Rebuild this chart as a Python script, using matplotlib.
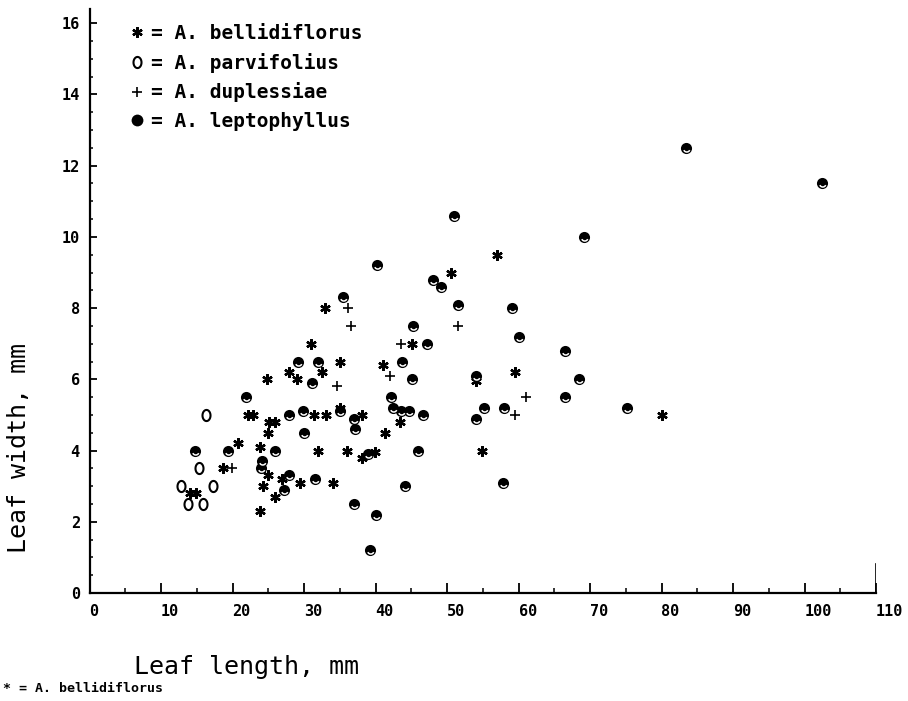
import numpy as np
import matplotlib
matplotlib.use("Agg")
import matplotlib.pyplot as plt
from matplotlib.path import Path
from matplotlib.lines import Line2D

# ---- data (leaf length mm, leaf width mm) ----
lepto_len = [83.4, 102.4, 51.0, 69.2, 40.2, 48.0, 49.2, 35.5, 51.5, 59.1, 45.2, 60.1, 47.2,
             66.5, 43.7, 29.2, 32.0, 31.1, 21.9, 45.1, 54.1, 68.5, 42.2, 66.5, 42.5, 43.6,
             44.7, 46.6, 54.1, 55.2, 58.0, 75.2, 27.9, 29.9, 35.0, 37.0, 37.1, 30.0, 14.8,
             19.4, 25.9, 45.9, 39.0, 24.1, 24.0, 27.9, 31.5, 27.2, 44.1, 57.8, 37.0, 40.1, 39.2]
lepto_wid = [12.5, 11.5, 10.6, 10.0, 9.2, 8.8, 8.6, 8.3, 8.1, 8.0, 7.5, 7.2, 7.0,
             6.8, 6.5, 6.5, 6.5, 5.9, 5.5, 6.0, 6.1, 6.0, 5.5, 5.5, 5.2, 5.1,
             5.1, 5.0, 4.9, 5.2, 5.2, 5.2, 5.0, 5.1, 5.1, 4.9, 4.6, 4.5, 4.0,
             4.0, 4.0, 4.0, 3.9, 3.7, 3.5, 3.3, 3.2, 2.9, 3.0, 3.1, 2.5, 2.2, 1.2]

belli_len = [57.0, 50.6, 32.9, 31.0, 45.1, 35.0, 41.0, 27.9, 32.5, 24.8, 29.0, 54.1, 59.5,
             22.2, 22.9, 31.4, 33.1, 35.0, 38.1, 25.1, 25.9, 43.4, 25.0, 41.3, 20.8, 23.8,
             32.0, 36.0, 38.1, 39.9, 54.9, 80.1, 18.7, 25.0, 26.9, 29.4, 34.1, 24.3, 25.9,
             23.8, 14.1, 14.9]
belli_wid = [9.5, 9.0, 8.0, 7.0, 7.0, 6.5, 6.4, 6.2, 6.2, 6.0, 6.0, 5.95, 6.2,
             5.0, 5.0, 5.0, 5.0, 5.2, 5.0, 4.8, 4.8, 4.8, 4.5, 4.5, 4.2, 4.1,
             4.0, 4.0, 3.8, 3.95, 4.0, 5.0, 3.5, 3.3, 3.2, 3.1, 3.1, 3.0, 2.7,
             2.3, 2.8, 2.8]

dupl_len = [36.1, 36.6, 51.5, 43.6, 42.0, 34.6, 61.0, 59.5, 19.9]
dupl_wid = [8.0, 7.5, 7.5, 7.0, 6.1, 5.8, 5.5, 5.0, 3.5]

parv_len = [16.3, 15.3, 12.8, 17.3, 13.8, 15.9]
parv_wid = [5.0, 3.5, 3.0, 3.0, 2.5, 2.5]

species = ["A. bellidiflorus", "A. parvifolius", "A. duplessiae", "A. leptophyllus"]
x_ticks = [0, 10, 20, 30, 40, 50, 60, 70, 80, 90, 100, 110]
y_ticks = [0, 2, 4, 6, 8, 10, 12, 14, 16]

# ---- marker shapes ----
t = np.linspace(0, 2 * np.pi, 60)
ellipse = Path(np.column_stack([0.72 * np.cos(t), np.sin(t)]), closed=True)

a = np.linspace(np.deg2rad(205), np.deg2rad(335), 24)
arc = np.column_stack([0.05 + 0.58 * np.cos(a), -0.05 + 0.58 * np.sin(a)])
crescent = Path(np.vstack([[[1, 1]], [[-1, -1]], arc]),
                [Path.MOVETO, Path.MOVETO, Path.MOVETO] + [Path.LINETO] * (len(arc) - 1))

star = (6, 2, 0)

mono = "DejaVu Sans Mono"

fig = plt.figure(figsize=(9.08, 7.01), dpi=100)
ax = fig.add_axes([89.5 / 908, 108 / 701, 786.5 / 908, 584 / 701])
ax.set_xlim(0, 110)
ax.set_ylim(0, 16.4)

ax.plot(belli_len, belli_wid, linestyle="none", marker=star, ms=7.5, mew=1.7,
        color="black", mec="black")
ax.plot(parv_len, parv_wid, linestyle="none", marker=ellipse, ms=8, mew=1.5,
        mfc="none", mec="black")
ax.plot(dupl_len, dupl_wid, linestyle="none", marker="+", ms=7.5, mew=1.2, color="black")
ax.plot(lepto_len, lepto_wid, linestyle="none", marker="o", ms=8, mew=0,
        mfc="black", mec="black")
ax.plot(lepto_len, lepto_wid, linestyle="none", marker=crescent, ms=8, mew=1.1,
        mfc="none", mec="white")

# axes styling
for s in ["top", "right"]:
    ax.spines[s].set_visible(False)
for s in ["left", "bottom"]:
    ax.spines[s].set_linewidth(1.6)
ax.axvline(110, ymin=0, ymax=0.05, color="black", lw=1.2)

ax.set_xticks(x_ticks)
ax.set_xticks(np.arange(5, 110, 10), minor=True)
ax.set_yticks(y_ticks)
ax.set_yticks(np.arange(0.5, 16.4, 0.5), minor=True)
ax.tick_params(axis="x", which="major", direction="in", length=7, width=1.3, pad=8)
ax.tick_params(axis="x", which="minor", direction="in", length=3.5, width=1.1)
ax.tick_params(axis="y", which="major", direction="in", length=5, width=1.3, pad=7)
ax.tick_params(axis="y", which="minor", direction="in", length=2.5, width=1.1)
ax.set_xticklabels([str(v) for v in x_ticks], fontfamily=mono, fontweight="bold", fontsize=11)
ax.set_yticklabels([str(v) for v in y_ticks], fontfamily=mono, fontweight="bold", fontsize=11)
for lbl in ax.get_xticklabels():
    lbl.set_horizontalalignment("left")

ax.set_xlabel("Leaf length, mm", fontfamily=mono, fontsize=18)
ax.xaxis.set_label_coords((246 - 89.5) / 786.5, -(655 - 593) / 584)
ax.set_ylabel("Leaf width, mm", fontfamily=mono, fontsize=18, va="center")
ax.yaxis.set_label_coords(-(89.5 - 19) / 786.5, (593 - 448) / 584)

handles = [
    Line2D([], [], linestyle="none", marker=star, ms=7.5, mew=1.7, color="black"),
    Line2D([], [], linestyle="none", marker=ellipse, ms=8, mew=1.5, mfc="none", mec="black"),
    Line2D([], [], linestyle="none", marker="+", ms=7.5, mew=1.2, color="black"),
    Line2D([], [], linestyle="none", marker="o", ms=8.5, mew=0, mfc="black"),
]
leg = ax.legend(handles, ["= " + s for s in species], loc="upper left",
                bbox_to_anchor=(129.2 / 908, 1 - 24 / 701), bbox_transform=fig.transFigure,
                frameon=False, borderpad=0, borderaxespad=0, handlelength=0.8,
                handletextpad=0.3, labelspacing=0.5,
                prop={"family": mono, "weight": "bold", "size": 14})

fig.text(3 / 908, 1 - 688 / 701, "* = " + species[0], fontfamily=mono, fontweight="bold",
         fontsize=9.5, va="center", ha="left")

fig.savefig("out.png", dpi=100, facecolor="white")
